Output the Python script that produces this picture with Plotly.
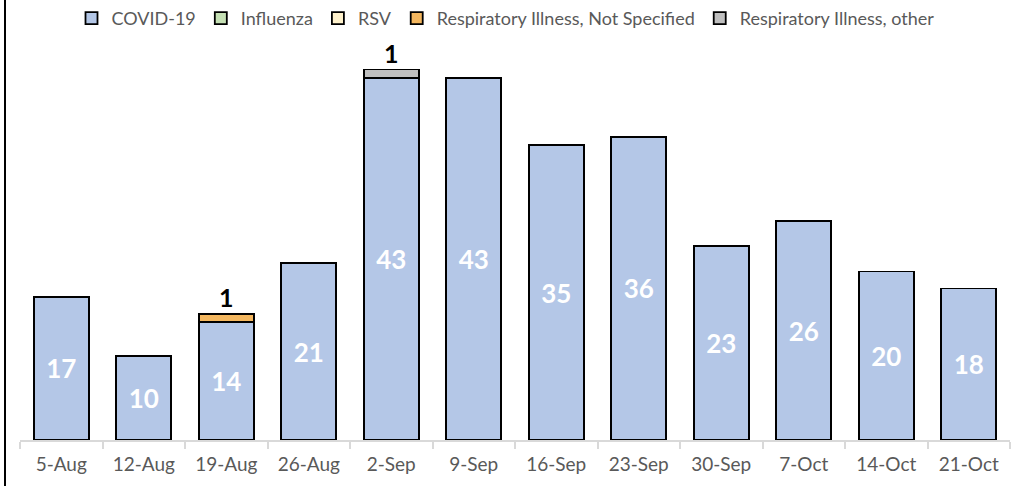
import plotly.graph_objects as go

weeks = ["5-Aug", "12-Aug", "19-Aug", "26-Aug", "2-Sep", "9-Sep", "16-Sep",
         "23-Sep", "30-Sep", "7-Oct", "14-Oct", "21-Oct"]
covid = [17, 10, 14, 21, 43, 43, 35, 36, 23, 26, 20, 18]
influenza = [0, 0, 0, 0, 0, 0, 0, 0, 0, 0, 0, 0]
rsv = [0, 0, 0, 0, 0, 0, 0, 0, 0, 0, 0, 0]
resp_not_specified = [0, 0, 1, 0, 0, 0, 0, 0, 0, 0, 0, 0]
resp_other = [0, 0, 0, 0, 1, 0, 0, 0, 0, 0, 0, 0]

series = [
    ("COVID-19", covid, "#b4c7e7"),
    ("Influenza", influenza, "#c5e0b4"),
    ("RSV", rsv, "#fff2cc"),
    ("Respiratory Illness, Not Specified", resp_not_specified, "#f4b75f"),
    ("Respiratory Illness, other", resp_other, "#bfbfbf"),
]

FONT = "Lato"
fig = go.Figure()
for name, vals, color in series:
    y = [v if v else None for v in vals]
    if name == "COVID-19":
        text = [str(v) if v else "" for v in vals]
        fig.add_trace(go.Bar(
            x=weeks, y=y, name=name, text=text, textposition="inside",
            insidetextanchor="middle",
            textfont=dict(color="white", size=26, family=FONT, weight="bold"),
            marker=dict(color=color, line=dict(color="black", width=1.8)),
            hoverinfo="skip",
        ))
    else:
        fig.add_trace(go.Bar(
            x=weeks, y=y, name=name,
            marker=dict(color=color, line=dict(color="black", width=1.8)),
            hoverinfo="skip",
        ))

# labels for the small stacked segments, placed above each stack
others = [a + b + c + d for a, b, c, d in zip(influenza, rsv, resp_not_specified, resp_other)]
totals = [c + o for c, o in zip(covid, others)]
lab_x = [w for w, o in zip(weeks, others) if o]
lab_y = [t for t, o in zip(totals, others) if o]
lab_t = [str(o) for o in others if o]
fig.add_trace(go.Scatter(
    x=lab_x, y=lab_y, text=lab_t, mode="text", textposition="top center",
    textfont=dict(color="black", size=25, family=FONT, weight="bold"),
    showlegend=False, cliponaxis=False, hoverinfo="skip",
))

fig.update_layout(
    barmode="stack",
    bargap=0.33,
    width=1011, height=486,
    margin=dict(l=20, r=1, t=40, b=46, autoexpand=False),
    plot_bgcolor="white", paper_bgcolor="white",
    font=dict(family=FONT, color="#595959", size=18),
    legend=dict(orientation="h", x=0.5, xanchor="center", y=1.0, yanchor="top",
                xref="container", yref="container",
                font=dict(size=18, color="#595959", family=FONT),
                itemwidth=30, traceorder="normal", bgcolor="rgba(0,0,0,0)"),
    xaxis=dict(showline=True, linecolor="#d9d9d9", linewidth=2,
               ticks="outside", tickcolor="#d9d9d9", ticklen=7, tickwidth=2,
               tickson="boundaries", ticklabelstandoff=6,
               tickfont=dict(size=19, color="#595959", family=FONT),
               showgrid=False),
    yaxis=dict(range=[0, 47.5], visible=False, showgrid=False),
    shapes=[dict(type="line", xref="paper", yref="paper",
                 x0=-15 / 990, x1=-15 / 990, y0=-0.12, y1=1.2,
                 line=dict(color="black", width=2))],
)

fig.write_html("out.html", config={"displayModeBar": False},
               post_script="document.body.style.margin='0';")
